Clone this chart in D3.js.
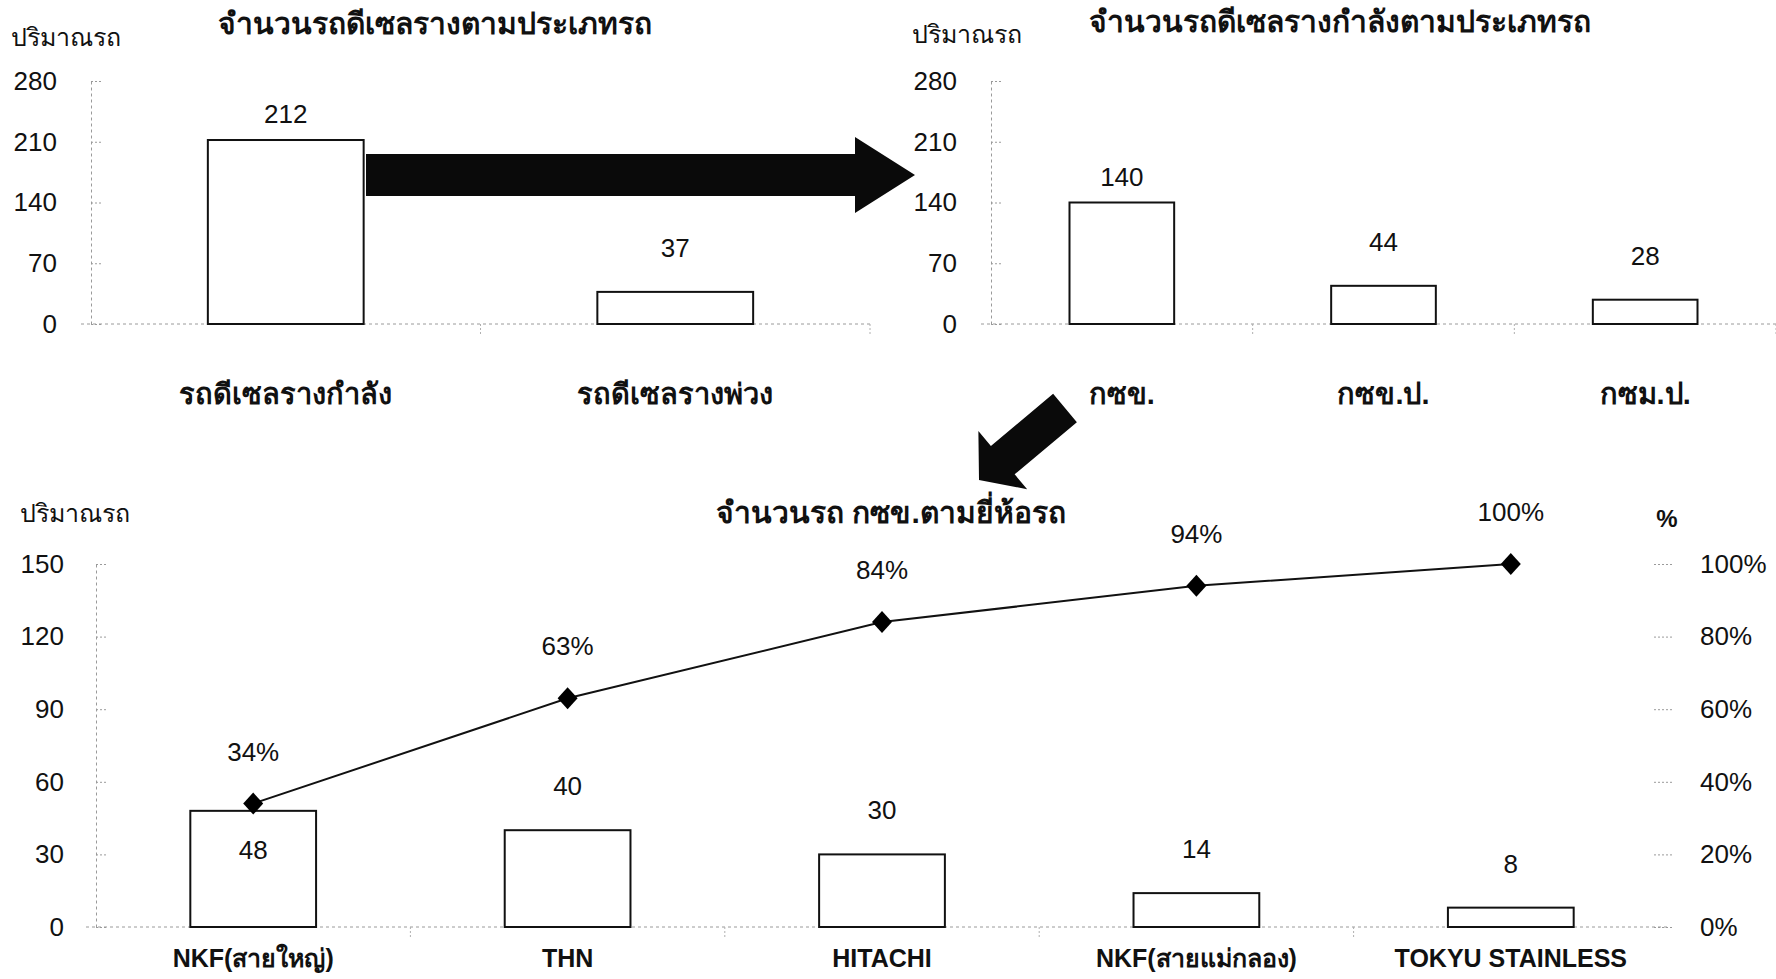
<!DOCTYPE html>
<html lang="th">
<head>
<meta charset="UTF-8">
<title>จำนวนรถดีเซลราง</title>
<script src="https://d3js.org/d3.v7.min.js"></script>
<style>
    body { margin: 0; background: #fff; }
    svg { display: block; font-family: "Liberation Sans", Arial, "Noto Sans", "DejaVu Sans", sans-serif; }
    .axis .domain { stroke: #9a9a9a; stroke-dasharray: 3,3; }
    .axis .tick line { stroke: #9a9a9a; stroke-dasharray: 2,2; }
    .axis .tick text { fill: #111; }
    .bar { fill: #fff; stroke: #111; stroke-width: 2; }
    .lbl { fill: #111; }
    .bold { font-weight: bold; }
</style>
</head>
<body>
<svg id="chart" width="1776" height="979"></svg>
<script>
    // top-left: all railcars by type
    const typeCats = ["รถดีเซลรางกำลัง", "รถดีเซลรางพ่วง"];
    const typeVals = [212, 37];
    // top-right: power cars by class
    const powerCats = ["กซข.", "กซข.ป.", "กซม.ป."];
    const powerVals = [140, 44, 28];
    const topTicks = [0, 70, 140, 210, 280];
    // bottom: กซข. by maker (pareto)
    const brandCats = ["NKF(สายใหญ่)", "THN", "HITACHI", "NKF(สายแม่กลอง)", "TOKYU STAINLESS"];
    const brandVals = [48, 40, 30, 14, 8];
    const brandCumPct = [34, 63, 84, 94, 100];
    const brandTicks = [0, 30, 60, 90, 120, 150];
    const pctTicks = [0, 20, 40, 60, 80, 100];

    const svg = d3.select("#chart");

    function text(x, y, str, size, opts = {}) {
        return svg.append("text")
            .attr("x", x).attr("y", y)
            .attr("text-anchor", opts.anchor || "middle")
            .attr("dominant-baseline", "central")
            .attr("class", "lbl" + (opts.bold ? " bold" : ""))
            .style("font-size", size + "px")
            .text(str);
    }

    function drawPanel(cfg) {
        const x = d3.scaleBand().domain(cfg.cats).range([cfg.x0, cfg.x1]).paddingInner(0.6).paddingOuter(0.3);
        const y = d3.scaleLinear().domain([0, 280]).range([cfg.y0, cfg.y1]);

        const yAxis = svg.append("g")
            .attr("class", "axis")
            .attr("transform", `translate(${cfg.x0},0)`)
            .call(d3.axisLeft(y).tickValues(topTicks).tickSize(12).tickPadding(22).tickSizeOuter(0));
        yAxis.selectAll(".tick text").style("font-size", "26px").style("font-family", "inherit");
        yAxis.selectAll(".tick line").attr("x2", 10);

        svg.append("line")
            .attr("x1", cfg.x0 - 10).attr("x2", cfg.x1)
            .attr("y1", y(0)).attr("y2", y(0))
            .attr("stroke", "#9a9a9a").attr("stroke-dasharray", "3,3");
        // small category separators under the baseline
        cfg.cats.forEach(c => {
            const sx = x(c) + x.bandwidth() + x.step() * 0.3;
            svg.append("line")
                .attr("x1", sx).attr("x2", sx).attr("y1", y(0)).attr("y2", y(0) + 12)
                .attr("stroke", "#b0b0b0").attr("stroke-dasharray", "2,2");
        });

        svg.selectAll(null).data(cfg.vals).enter().append("rect")
            .attr("class", "bar")
            .attr("x", (d, i) => x(cfg.cats[i]))
            .attr("y", d => y(d))
            .attr("width", x.bandwidth())
            .attr("height", d => y(0) - y(d));

        cfg.vals.forEach((v, i) => {
            const gap = v > 100 ? 26 : 44;
            text(x(cfg.cats[i]) + x.bandwidth() / 2, y(v) - gap, v, 26);
            text(x(cfg.cats[i]) + x.bandwidth() / 2, 394, cfg.cats[i], 29, { bold: true });
        });

        text(cfg.unitX, cfg.unitY, "ปริมาณรถ", 25, { anchor: "start" });
        text(cfg.titleX, cfg.titleY, cfg.title, 30, { bold: true });
    }

    drawPanel({
        cats: typeCats, vals: typeVals, x0: 91, x1: 870, y0: 324, y1: 81,
        unitX: 11, unitY: 37, titleX: 435, titleY: 23,
        title: "จำนวนรถดีเซลรางตามประเภทรถ"
    });
    drawPanel({
        cats: powerCats, vals: powerVals, x0: 991, x1: 1776, y0: 324, y1: 81,
        unitX: 912, unitY: 34, titleX: 1340, titleY: 21,
        title: "จำนวนรถดีเซลรางกำลังตามประเภทรถ"
    });

    // block arrows joining the panels
    function blockArrow(x0, y0, x1, y1, shaftW, headW, headL) {
        const len = Math.hypot(x1 - x0, y1 - y0);
        const ang = Math.atan2(y1 - y0, x1 - x0) * 180 / Math.PI;
        const s = shaftW / 2, h = headW / 2, b = len - headL;
        svg.append("path")
            .attr("d", `M0,${-s}L${b},${-s}L${b},${-h}L${len},0L${b},${h}L${b},${s}L0,${s}Z`)
            .attr("transform", `translate(${x0},${y0}) rotate(${ang})`)
            .attr("fill", "#0a0a0a");
    }
    blockArrow(366, 175, 915, 175, 42, 76, 60);
    blockArrow(1065, 408, 979, 480, 37, 76, 31);

    // bottom pareto chart
    const bx = d3.scaleBand().domain(brandCats).range([96, 1668]).paddingInner(0.6).paddingOuter(0.3);
    const by = d3.scaleLinear().domain([0, 150]).range([927, 564]);
    const py = d3.scaleLinear().domain([0, 100]).range([927, 564]);

    const bl = svg.append("g")
        .attr("class", "axis")
        .attr("transform", "translate(96,0)")
        .call(d3.axisLeft(by).tickValues(brandTicks).tickSize(12).tickPadding(20).tickSizeOuter(0));
    bl.selectAll(".tick text").style("font-size", "26px").style("font-family", "inherit");
    bl.selectAll(".tick line").attr("x2", 10);

    const br = svg.append("g")
        .attr("class", "axis")
        .attr("transform", "translate(1668,0)")
        .call(d3.axisRight(py).tickValues(pctTicks).tickFormat(d => d + "%").tickSize(6).tickPadding(26).tickSizeOuter(0));
    br.selectAll(".tick text").style("font-size", "26px").style("font-family", "inherit");
    br.selectAll(".tick line").attr("x1", -14);
    br.select(".domain").style("stroke", "none");

    svg.append("line")
        .attr("x1", 86).attr("x2", 1668)
        .attr("y1", by(0)).attr("y2", by(0))
        .attr("stroke", "#9a9a9a").attr("stroke-dasharray", "3,3");
    brandCats.slice(0, -1).forEach(c => {
        const sx = bx(c) + bx.bandwidth() + bx.step() * 0.3;
        svg.append("line")
            .attr("x1", sx).attr("x2", sx).attr("y1", by(0)).attr("y2", by(0) + 10)
            .attr("stroke", "#b0b0b0").attr("stroke-dasharray", "2,2");
    });

    svg.selectAll(null).data(brandVals).enter().append("rect")
        .attr("class", "bar")
        .attr("x", (d, i) => bx(brandCats[i]))
        .attr("y", d => by(d))
        .attr("width", bx.bandwidth())
        .attr("height", d => by(0) - by(d));

    const mid = i => bx(brandCats[i]) + bx.bandwidth() / 2;

    const line = d3.line().x((d, i) => mid(i)).y(d => py(d));
    svg.append("path")
        .datum(brandCumPct)
        .attr("d", line)
        .attr("fill", "none")
        .attr("stroke", "#111")
        .attr("stroke-width", 2);

    svg.selectAll(null).data(brandCumPct).enter().append("path")
        .attr("d", "M0,-11L10,0L0,11L-10,0Z")
        .attr("transform", (d, i) => `translate(${mid(i)},${py(d)})`)
        .attr("fill", "#000");

    brandCumPct.forEach((p, i) => text(mid(i), py(p) - 52, p + "%", 26));
    brandVals.forEach((v, i) => {
        // first label sits inside the bar, under the 34% label
        const ly = i === 0 ? by(v) + 39 : by(v) - 44;
        text(mid(i), ly, v, 26);
        text(mid(i), 958, brandCats[i], 25, { bold: true });
    });

    text(20, 513, "ปริมาณรถ", 25, { anchor: "start" });
    text(891, 512, "จำนวนรถ กซข.ตามยี่ห้อรถ", 30, { bold: true });
    text(1667, 518, "%", 24, { bold: true });
</script>
</body>
</html>
